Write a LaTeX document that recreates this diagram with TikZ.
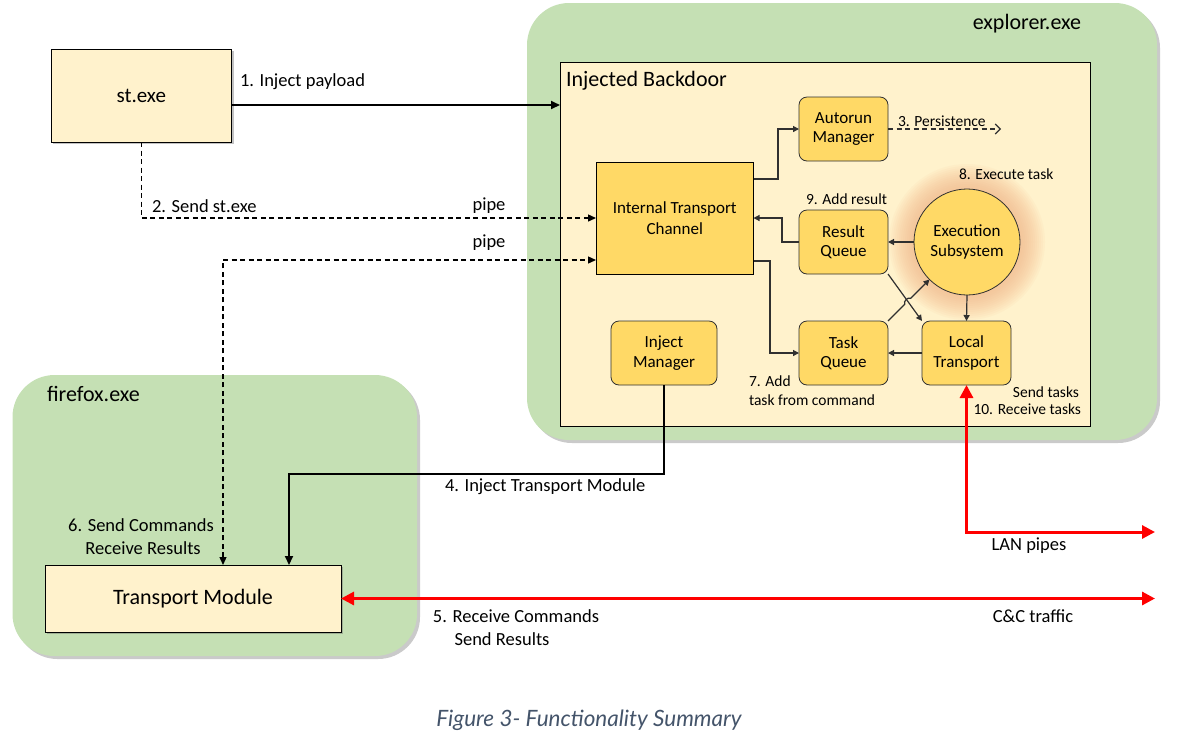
\documentclass[tikz,border=0pt]{standalone}
\usepackage{fontspec}
\setmainfont{Carlito}
\newfontfamily\capfont{Lato}
\usetikzlibrary{arrows.meta,shadows,calc}
\definecolor{grn}{HTML}{C5E0B4}
\definecolor{lyel}{HTML}{FFF2CC}
\definecolor{gold}{HTML}{FFD966}
\definecolor{glowc}{HTML}{F4B183}
\definecolor{capc}{HTML}{44546A}
\definecolor{lnc}{HTML}{303030}
\begin{document}
\begin{tikzpicture}[x=1pt,y=-1pt,
  every node/.style={outer sep=0pt,inner sep=1pt},
  proc/.style={fill=grn,rounded corners=42pt,
    drop shadow={shadow xshift=3pt,shadow yshift=-3pt,opacity=0.35,fill=black!60}},
  exebox/.style={draw=black,line width=0.8pt,fill=lyel,
    drop shadow={shadow xshift=2pt,shadow yshift=-2pt,opacity=0.4,fill=black!60}},
  comp/.style={draw=lnc,line width=0.8pt,fill=gold,rounded corners=8pt,
    minimum width=89pt,minimum height=64pt,align=center,font=\fontsize{17}{19.5}\selectfont},
  biglbl/.style={font=\fontsize{18.5}{21}\selectfont},
  smlbl/.style={font=\fontsize{15.5}{18}\selectfont},
  ttl/.style={font=\fontsize{22}{25}\selectfont},
  thk/.style={draw=black,line width=2pt,-{Triangle[length=9pt,width=8pt]}},
  thn/.style={draw=lnc,line width=1.2pt,-{Triangle[length=6pt,width=6pt]}},
  dsh/.style={draw=black,line width=1.3pt,dash pattern=on 5pt off 3.5pt},
  redarr/.style={draw=red,line width=3pt,{Triangle[length=13pt,width=13pt]}-{Triangle[length=13pt,width=13pt]}}
]
\useasboundingbox (0,0) rectangle (1183,740);

% containers
\node[proc,minimum width=630pt,minimum height=437pt] (explorer) at (842,221.5) {};
\node[proc,minimum width=404.5pt,minimum height=281pt] (firefox) at (214.75,515.5) {};
\node[draw=black,line width=0.8pt,fill=lyel,minimum width=530pt,minimum height=364pt] (bd) at (825,244) {};

\node[ttl,anchor=east] (explbl) at (1082,24) {explorer.exe};
\node[ttl,anchor=west] (fflbl) at (46,394) {firefox.exe};
\node[ttl,anchor=west] (bdlbl) at (565,81) {Injected Backdoor};

% outer boxes
\node[exebox,minimum width=180.5pt,minimum height=93pt,font=\fontsize{21}{24}\selectfont] (st) at (141.25,95.5) {st.exe};
\node[exebox,minimum width=296pt,minimum height=67pt,ttl] (tm) at (193,598.5) {Transport Module};

% internal components
\node[draw=black,line width=0.8pt,fill=gold,minimum width=157.5pt,minimum height=112pt,align=center,
  font=\fontsize{17}{21}\selectfont] (itc) at (674.75,218) {Internal Transport\\Channel};
\node[comp] (am) at (843.5,129) {Autorun\\Manager};
\node[comp] (rq) at (843.5,242) {Result\\Queue};
\node[comp] (tq) at (843.5,353) {Task\\Queue};
\node[comp] (lt) at (966.5,353) {Local\\Transport};
\node[comp,minimum width=106pt] (im) at (664,353) {Inject\\Manager};

% glow + execution subsystem
\coordinate (exc) at (967,242);
\foreach \r in {78,76,...,54} {\fill[glowc,opacity=0.07] (exc) circle (\r pt);}
\node[circle,draw=lnc,line width=0.8pt,fill=gold,minimum size=106pt,align=center,
  font=\fontsize{17}{19.5}\selectfont] (ex) at (exc) {Execution\\Subsystem};

% coordinates for free ends
\coordinate (persend) at (1001,129);
\coordinate (ccend) at (1155,598.5);
\coordinate (lanend) at (1155,532);
\coordinate (a1) at ($(st.east)+(0,9.5)$);
\coordinate (p2s) at ($(tm.north)+(30,0)$);
\coordinate (p2e) at ($(itc.west)+(0,42)$);

% 1. inject payload
\draw[thk] (a1) -- (a1 -| bd.west);
\node[biglbl,anchor=west] (l1) at (239,82) {1. Inject payload};

% 2. send st.exe (pipe)
\draw[dsh,-{Triangle[length=8pt,width=7pt]}] (st.south) |- (itc.west);
\node[biglbl,anchor=west] (l2) at (151,206) {2. Send st.exe};
\node[biglbl] (p1) at (489,206) {pipe};

% pipe to transport module
\draw[dsh,{Triangle[length=8pt,width=7pt]}-{Triangle[length=8pt,width=7pt]}] (p2s) |- (p2e);
\node[biglbl] (p2) at (489,243) {pipe};
\node[biglbl] (l6a) at (141,525) {6. Send Commands};
\node[biglbl] (l6b) at (143,548) {Receive Results};

% internal connectors
\draw[thn] ($(itc.north east)+(0,17)$) -- ++(24.5,0) |- (am.west);
\draw[dsh,line width=1.1pt,draw=lnc,-{Straight Barb[length=5pt,width=10pt]}] (am.east) -- (persend);
\node[smlbl,anchor=west] (l3) at (897,121) {3. Persistence};
\draw[thn] (rq.west) -- ++(-17,0) |- (itc.east);
\draw[thn] ($(itc.east)+(0,43)$) -- ++(16.5,0) |- (tq.west);
\draw[thn] (ex.west) -- (rq.east);
\draw[thn] (ex.south) -- (lt.north);
\draw[thn] (lt.west) -- (tq.east);
\draw[thn] (rq.south east) -- (lt.north west);
\draw[thn] (tq.north east) -- ($(tq.north east)!0.405!(ex.225)$)
   to[bend left=80] ($(tq.north east)!0.545!(ex.225)$) -- (ex.225);
\node[smlbl,anchor=west] (l8) at (958,174) {8. Execute task};
\node[smlbl,anchor=west] (l9) at (805,199) {9. Add result};
\node[smlbl,anchor=west] (l7a) at (748,381) {7. Add};
\node[smlbl,anchor=west] (l7b) at (748,400) {task from command};
\node[smlbl,anchor=east] (l10a) at (1080,392) {Send tasks};
\node[smlbl,anchor=east] (l10b) at (1082,409) {10. Receive tasks};

% 4. inject transport module
\draw[thk] (im.south) -- ++(0,89) -| ($(tm.north)+(96,0)$);
\node[biglbl,anchor=west] (l4) at (444,487) {4. Inject Transport Module};

% red traffic
\draw[redarr] (tm.east) -- (ccend);
\draw[redarr] (lt.south) |- (lanend);
\node[biglbl] (l5a) at (516,616) {5. Receive Commands};
\node[biglbl] (l5b) at (502,639) {Send Results};
\node[biglbl] (llan) at (1029,546) {LAN pipes};
\node[biglbl] (lcc) at (1033,616) {C\&C traffic};

% caption
\node[font=\capfont\itshape\fontsize{22.5}{26}\selectfont,text=capc] (cap) at (589,720) {Figure 3- Functionality Summary};
\end{tikzpicture}
\end{document}
